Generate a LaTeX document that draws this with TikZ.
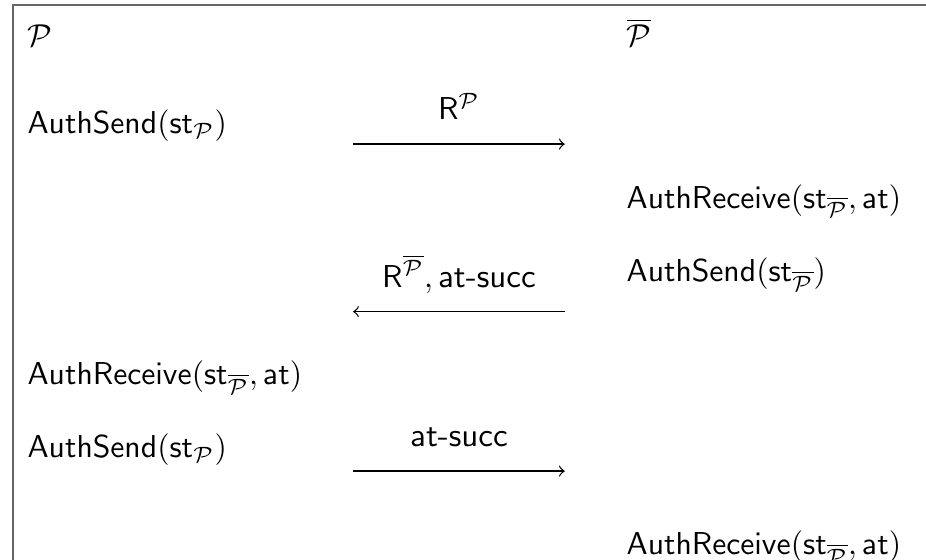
\documentclass[tikz,border=0pt]{standalone}
\usepackage{amsmath}
\usetikzlibrary{positioning}
\tikzset{
  frame/.style={draw=black!60, line width=0.6pt},
  party/.style={anchor=base west, inner sep=0pt},
  action/.style={anchor=base west, inner sep=0pt},
  msg/.style={->, thin},
  msglabel/.style={anchor=base, inner sep=0pt, yshift=0.27cm}
}

\begin{document}
\begin{tikzpicture}[font=\fontsize{10.4}{12.5}\selectfont]
  \useasboundingbox (0,0) rectangle (10.28,-6.216);
  \draw[frame] (0.144,-6.216) |- (10.28,-0.055);

  % the two parties
  \node[party] (p) at (0.30,-0.52) {$\mathcal{P}$};
  \node[party] (pbar) at (6.95,-0.52) {$\overline{\mathcal{P}}$};

  % actions of P (left) and of P-bar (right)
  \node[action] (sendP) at (0.30,-1.48) {$\mathsf{AuthSend}(\mathsf{st}_{\mathcal{P}})$};
  \node[action] (recvPbar) at (6.95,-2.31) {$\mathsf{AuthReceive}(\mathsf{st}_{\overline{\mathcal{P}}},\mathsf{at})$};
  \node[action] (sendPbar) at (6.95,-3.13) {$\mathsf{AuthSend}(\mathsf{st}_{\overline{\mathcal{P}}})$};
  \node[action] (recvP) at (0.30,-4.27) {$\mathsf{AuthReceive}(\mathsf{st}_{\overline{\mathcal{P}}},\mathsf{at})$};
  \node[action] (sendPtwo) at (0.30,-5.08) {$\mathsf{AuthSend}(\mathsf{st}_{\mathcal{P}})$};
  \node[action] (recvPbartwo) at (6.95,-6.16) {$\mathsf{AuthReceive}(\mathsf{st}_{\overline{\mathcal{P}}},\mathsf{at})$};

  % message ends
  \coordinate (m1s) at (3.92,-1.60);
  \coordinate (m1e) at (6.27,-1.60);
  \coordinate (m2s) at (6.27,-3.46);
  \coordinate (m2e) at (3.92,-3.46);
  \coordinate (m3s) at (3.92,-5.23);
  \coordinate (m3e) at (6.27,-5.23);

  \draw[msg] (m1s) -- node[msglabel] {$\mathsf{R}^{\mathcal{P}}$} (m1e);
  \draw[msg] (m2s) -- node[msglabel] {$\mathsf{R}^{\overline{\mathcal{P}}},\text{\textsf{at-succ}}$} (m2e);
  \draw[msg] (m3s) -- node[msglabel] {\textsf{at-succ}} (m3e);
\end{tikzpicture}
\end{document}
